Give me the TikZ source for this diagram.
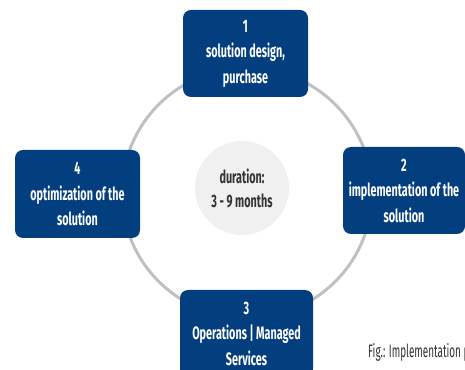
\documentclass[tikz,border=0pt]{standalone}
\usepackage{fontspec}
\setmainfont{Fira Sans}[FakeStretch=0.6]
\definecolor{boxblue}{RGB}{3,62,126}
\definecolor{ringgray}{RGB}{192,192,192}
\definecolor{hubgray}{RGB}{240,240,240}
\definecolor{textgray}{RGB}{51,51,51}
\begin{document}
\begin{tikzpicture}[x=1pt,y=1pt,
  stepbox/.style={fill=boxblue, rounded corners=8pt, text=white, align=center,
    font=\fontsize{18}{25.5}\selectfont\bfseries, inner sep=0pt},
  ring/.style={circle, draw=ringgray, line width=3pt, minimum size=250pt, inner sep=0pt},
  hub/.style={circle, fill=hubgray, minimum size=94pt, inner sep=0pt, text=textgray,
    align=center, font=\fontsize{18}{24}\selectfont\bfseries}]
\useasboundingbox (0,0) rectangle (465,369);
\clip (0,0) rectangle (465,369);
\node[ring] (ring) at (247,176) {};
\node[hub] (hub) at (242,181) {duration:\\3 - 9 months};
\node[stepbox, minimum width=125pt, minimum height=87pt] (s1) at (245.5,315.5) {1\\solution design,\\purchase};
\node[stepbox, minimum width=122pt, minimum height=87pt] (s2) at (404,178.5) {2\\implementation of the\\solution};
\node[stepbox, minimum width=133pt, minimum height=87pt] (s3) at (246.5,35.5) {3\\Operations | Managed\\Services};
\node[stepbox, minimum width=125pt, minimum height=88pt] (s4) at (77.5,175) {4\\optimization of the\\solution};
\node[anchor=west, text=textgray, font=\fontsize{18}{20}\selectfont\addfontfeature{FakeStretch=0.55}, inner sep=0pt] (cap) at (368,17) {Fig.: Implementation process};
\end{tikzpicture}
\end{document}
